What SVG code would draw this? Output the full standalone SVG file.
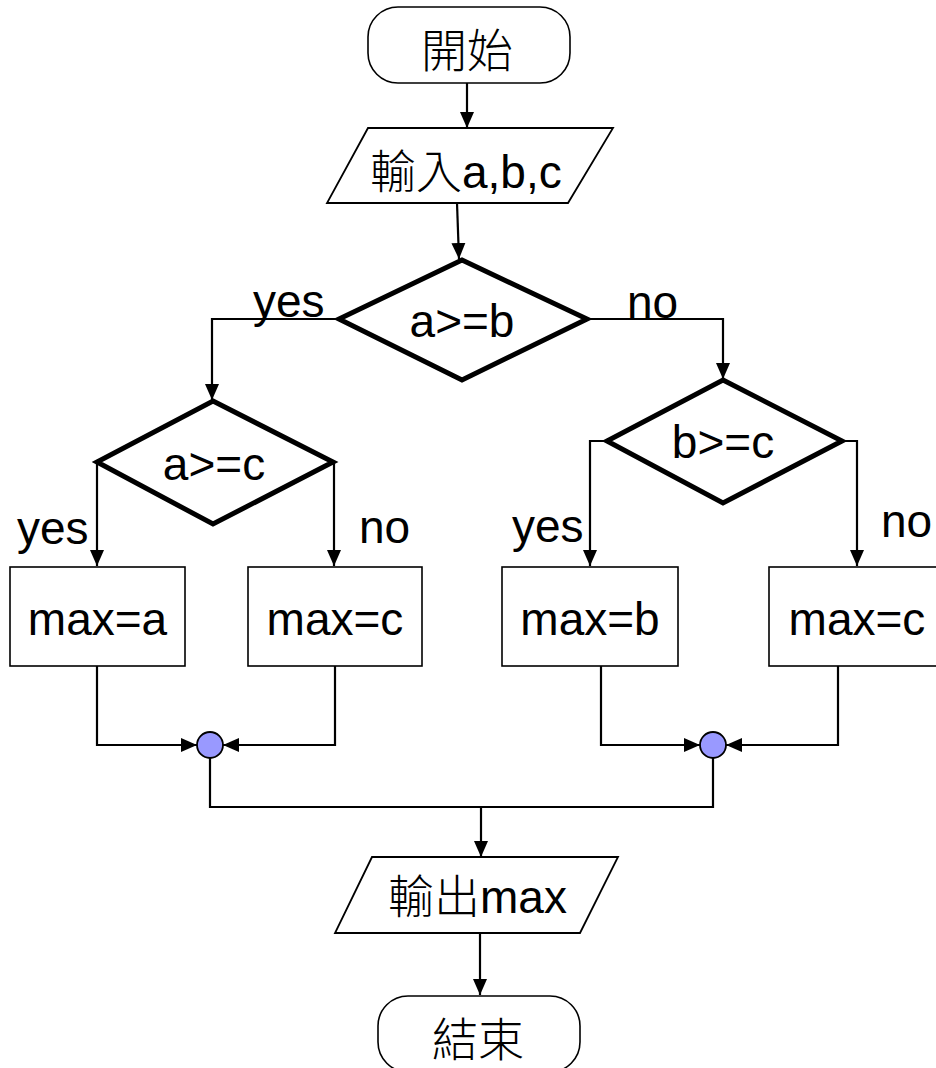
<svg xmlns="http://www.w3.org/2000/svg" width="936" height="1068" viewBox="0 0 936 1068">
<style>
text{font-family:"Liberation Sans","Noto Sans CJK TC",Arial,sans-serif;font-size:46px;fill:#000}
.cjk{font-family:"Noto Sans CJK TC","Noto Sans CJK SC",sans-serif;font-weight:300}
.mid{text-anchor:middle}
.term{fill:#fff;stroke:#000;stroke-width:1.6}
.io{fill:#fff;stroke:#000;stroke-width:1.8}
.dec{fill:#fff;stroke:#000;stroke-width:5;stroke-linejoin:miter}
.proc{fill:#fff;stroke:#000;stroke-width:1.6}
.join{fill:#9999ff;stroke:#000;stroke-width:1.8}
.conn path{fill:none;stroke:#000;stroke-width:2.2}
.arr{marker-end:url(#ah)}
</style>
<defs>
<marker id="ah" markerUnits="userSpaceOnUse" markerWidth="16" markerHeight="16" viewBox="0 0 16 16" refX="16" refY="8" orient="auto">
<path d="M0,1 L16,8 L0,15 Z" fill="#000"/>
</marker>
</defs>
<rect width="936" height="1068" fill="#fff"/>
<g id="connectors" class="conn">
<path class="arr" d="M467,83 L467,128"/>
<path class="arr" d="M457,203 L459,259"/>
<path class="arr" d="M339,319 L212,319 L212,400"/>
<path class="arr" d="M587,319 L723,319 L723,379"/>
<path class="arr" d="M97,462 L97,566"/>
<path class="arr" d="M334,462 L334,566"/>
<path class="arr" d="M607,441 L590,441 L590,566"/>
<path class="arr" d="M842,441 L857,441 L857,566"/>
<path class="arr" d="M97,666 L97,745 L197,745"/>
<path class="arr" d="M335,666 L335,745 L223,745"/>
<path class="arr" d="M601,666 L601,745 L700,745"/>
<path class="arr" d="M838,666 L838,745 L726,745"/>
<path d="M210,758 L210,807 L713,807 L713,758"/>
<path class="arr" d="M481,807 L481,857"/>
<path class="arr" d="M480,933 L480,995"/>
</g>
<g id="labels">
<text x="253" y="317">yes</text>
<text x="627" y="318">no</text>
<text x="17" y="544">yes</text>
<text x="359" y="543">no</text>
<text x="512" y="542">yes</text>
<text x="881" y="537">no</text>
</g>
<g id="start">
<rect class="term" x="368" y="7" width="202" height="76" rx="30" ry="30"/>
<text class="mid cjk" x="467" y="67">開始</text>
</g>
<g id="input">
<polygon class="io" points="368,128 613,128 568,203 327,203"/>
<text x="370" y="188"><tspan class="cjk">輸入</tspan>a,b,c</text>
</g>
<g id="dec1">
<polygon class="dec" points="462,260 587,319 462,380 339,319"/>
<text class="mid" x="462" y="337">a&gt;=b</text>
</g>
<g id="dec2">
<polygon class="dec" points="213,401 333,462 213,524 97,462"/>
<text class="mid" x="214" y="480">a&gt;=c</text>
</g>
<g id="dec3">
<polygon class="dec" points="723,380 842,441 723,503 607,441"/>
<text class="mid" x="723" y="458">b&gt;=c</text>
</g>
<g id="box1">
<rect class="proc" x="10" y="567" width="175" height="99"/>
<text class="mid" x="97.5" y="635">max=a</text>
</g>
<g id="box2">
<rect class="proc" x="248" y="567" width="174" height="99"/>
<text class="mid" x="335" y="635">max=c</text>
</g>
<g id="box3">
<rect class="proc" x="502" y="567" width="176" height="99"/>
<text class="mid" x="590" y="635">max=b</text>
</g>
<g id="box4">
<rect class="proc" x="769" y="567" width="175" height="99"/>
<text class="mid" x="857" y="635">max=c</text>
</g>
<g id="join1">
<circle class="join" cx="210" cy="745" r="13"/>
</g>
<g id="join2">
<circle class="join" cx="713" cy="745" r="13"/>
</g>
<g id="output">
<polygon class="io" points="372,857 618,857 580,933 335,933"/>
<text x="388" y="913"><tspan class="cjk">輸出</tspan>max</text>
</g>
<g id="end">
<rect class="term" x="378" y="996" width="202" height="76" rx="30" ry="30"/>
<text class="mid cjk" x="478" y="1056">結束</text>
</g>
</svg>
